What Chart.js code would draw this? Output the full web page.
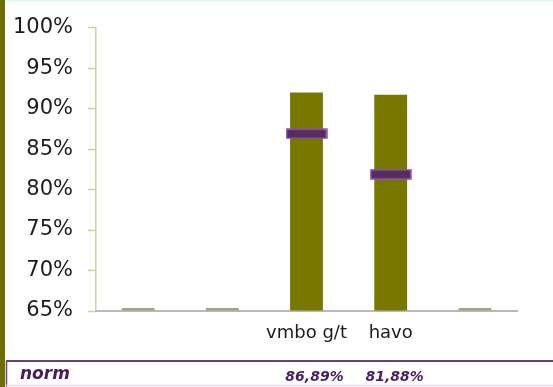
<!DOCTYPE html>
<html>
<head>
<meta charset="utf-8">
<script src="https://cdn.jsdelivr.net/npm/chart.js@4/dist/chart.umd.min.js"></script>
<style>
html,body{margin:0;padding:0;background:#fff;}
canvas{display:block;}
</style>
</head>
<body>
<canvas id="c" width="553" height="387"></canvas>
<script>
const categories = ['', '', 'vmbo g/t', 'havo', ''];
const scores = [65, 65, 92.0, 91.7, 65];
const norm = [null, null, 86.89, 81.88, null];
const normLabels = ['', '', '86,89%', '81,88%', ''];
const yTicks = [65, 70, 75, 80, 85, 90, 95, 100];

const OLIVE = '#787800';
const DASH = '#a3a47c';

function makeMarker() {
  const c = document.createElement('canvas');
  c.width = 42; c.height = 11;
  const g = c.getContext('2d');
  g.fillStyle = '#5a2b60';
  g.fillRect(1, 1, 40, 9);
  g.strokeStyle = '#8656a6';
  g.lineWidth = 1.5;
  g.strokeRect(1, 1, 40, 9);
  return c;
}

const tablePlugin = {
  id: 'table',
  beforeDraw(chart) {
    const ctx = chart.ctx;
    ctx.save();
    ctx.fillStyle = '#fff';
    ctx.fillRect(0, 0, chart.width, chart.height);
    ctx.restore();
  },
  afterDraw(chart) {
    const ctx = chart.ctx;
    const xs = chart.scales.x;
    ctx.save();
    ctx.fillStyle = '#e6f9f9';
    ctx.fillRect(0, 0, chart.width, 2);
    ctx.fillStyle = '#6e6e00';
    ctx.fillRect(0, 0, 5, chart.height);
    ctx.strokeStyle = '#6b3f80';
    ctx.lineWidth = 2;
    ctx.beginPath();
    ctx.moveTo(6, 361); ctx.lineTo(chart.width, 361);
    ctx.stroke();
    ctx.lineWidth = 1.5;
    ctx.beginPath();
    ctx.moveTo(6.5, 361); ctx.lineTo(6.5, chart.height);
    ctx.stroke();
    ctx.strokeStyle = '#ead3ee';
    ctx.lineWidth = 1.5;
    ctx.beginPath();
    ctx.moveTo(6, 385.5); ctx.lineTo(chart.width, 385.5);
    ctx.stroke();
    ctx.fillStyle = '#4a1b60';
    ctx.textBaseline = 'alphabetic';
    ctx.font = 'italic bold 17px "DejaVu Sans"';
    ctx.textAlign = 'left';
    ctx.fillText('norm', 20, 379);
    ctx.font = 'italic bold 14px "DejaVu Sans"';
    ctx.textAlign = 'center';
    const offs = [0, 0, 8, 4, 0];
    normLabels.forEach((t, i) => {
      if (!t) return;
      ctx.fillText(t, xs.getPixelForValue(i) + offs[i], 381);
    });
    ctx.restore();
  }
};

new Chart(document.getElementById('c'), {
  data: {
    labels: categories,
    datasets: [
      {
        type: 'line',
        data: norm,
        showLine: false,
        pointStyle: makeMarker(),
        pointRadius: 6,
        order: 0
      },
      {
        type: 'bar',
        data: scores,
        base: 65,
        backgroundColor: scores.map(v => v > 65 ? OLIVE : DASH),
        borderWidth: 0,
        minBarLength: 3,
        categoryPercentage: 1,
        barPercentage: 0.39,
        clip: false,
        order: 1
      }
    ]
  },
  options: {
    responsive: false,
    animation: false,
    layout: { padding: { top: 25, right: 36, left: 0, bottom: 0 } },
    plugins: { legend: { display: false }, tooltip: { enabled: false } },
    scales: {
      y: {
        min: 65, max: 100,
        afterBuildTicks(s) { s.ticks = yTicks.map(v => ({ value: v })); },
        afterFit(s) { s.width = 96; },
        ticks: {
          callback: v => v + '%',
          font: { family: 'DejaVu Sans', size: 21 },
          color: '#1c1c1c',
          padding: 15
        },
        grid: { drawOnChartArea: false, tickLength: 8, tickColor: '#cfd0a4', tickWidth: 1.5 },
        border: { color: '#cfd0a4', width: 1.5 }
      },
      x: {
        afterFit(s) { s.height = 76; },
        ticks: {
          font: { family: 'DejaVu Sans', size: 18 },
          color: '#1c1c1c',
          padding: 12,
          maxRotation: 0,
          minRotation: 0,
          autoSkip: false
        },
        grid: { drawOnChartArea: false, drawTicks: false },
        border: { color: '#b9b9b9', width: 2 }
      }
    }
  },
  plugins: [tablePlugin]
});
</script>
</body>
</html>
